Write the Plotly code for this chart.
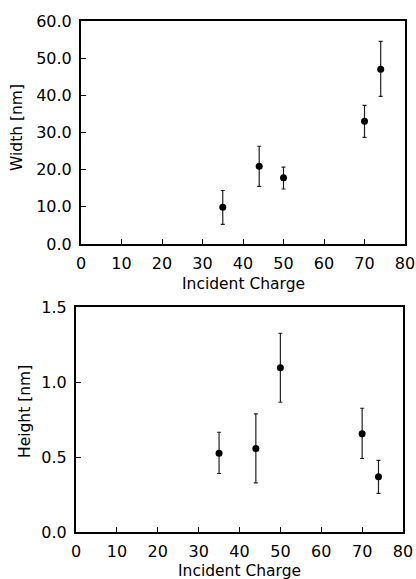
import plotly.graph_objects as go

charge = [35, 44, 50, 70, 74]

width_nm = [9.9, 20.9, 17.8, 33.0, 47.0]
width_err_plus = [4.5, 5.4, 2.9, 4.3, 7.5]
width_err_minus = [4.6, 5.4, 3.0, 4.3, 7.3]

height_nm = [0.525, 0.557, 1.095, 0.655, 0.368]
height_err_plus = [0.14, 0.23, 0.23, 0.17, 0.11]
height_err_minus = [0.135, 0.23, 0.23, 0.165, 0.11]

x_ticks = [0, 10, 20, 30, 40, 50, 60, 70, 80]
width_ticks = [0, 10, 20, 30, 40, 50, 60]
width_tick_labels = ["0.0", "10.0", "20.0", "30.0", "40.0", "50.0", "60.0"]
height_ticks = [0, 0.5, 1.0, 1.5]
height_tick_labels = ["0.0", "0.5", "1.0", "1.5"]

W, H = 416, 579
FONT = "DejaVu Sans"
FS = 16
FT = 15.5

fig = go.Figure()
fig.add_trace(go.Scatter(
    x=charge, y=width_nm, mode="markers",
    marker=dict(color="black", size=7),
    error_y=dict(type="data", symmetric=False, array=width_err_plus,
                 arrayminus=width_err_minus, color="#222", thickness=1.2, width=2),
    xaxis="x", yaxis="y", showlegend=False))
fig.add_trace(go.Scatter(
    x=charge, y=height_nm, mode="markers",
    marker=dict(color="black", size=7),
    error_y=dict(type="data", symmetric=False, array=height_err_plus,
                 arrayminus=height_err_minus, color="#222", thickness=1.2, width=2),
    xaxis="x2", yaxis="y2", showlegend=False))

def py(p):
    return 1 - p / H

axis_common = dict(showgrid=False, zeroline=False, showline=True, linecolor="black",
                   linewidth=2, mirror=True, ticks="inside", ticklen=5, tickwidth=1.2,
                   tickcolor="black", automargin=False,
                   tickfont=dict(family=FONT, size=FS, color="black"))

fig.update_layout(
    width=W, height=H, margin=dict(l=0, r=0, t=0, b=0),
    paper_bgcolor="white", plot_bgcolor="white",
    xaxis=dict(domain=[81 / W, 405 / W], anchor="y", range=[0, 80],
               tickvals=x_ticks, ticklabelstandoff=4, **axis_common),
    yaxis=dict(domain=[py(244), py(21)], anchor="x", range=[0, 60],
               tickvals=width_ticks, ticktext=width_tick_labels,
               ticklabelstandoff=4, **axis_common),
    xaxis2=dict(domain=[76 / W, 403 / W], anchor="y2", range=[0, 80],
                tickvals=x_ticks, ticklabelstandoff=4, **axis_common),
    yaxis2=dict(domain=[py(532), py(307)], anchor="x2", range=[0, 1.5],
                tickvals=height_ticks, ticktext=height_tick_labels,
                ticklabelstandoff=4, **axis_common),
)

annots = [
    dict(text="Incident Charge", x=(81 + 405) / 2 / W, y=py(284)),
    dict(text="Incident Charge", x=(76 + 403) / 2 / W, y=py(571)),
    dict(text="Width [nm]", x=17 / W, y=py(128), textangle=-90),
    dict(text="Height [nm]", x=25 / W, y=py(412), textangle=-90),
]
for a in annots:
    fig.add_annotation(xref="paper", yref="paper", showarrow=False,
                       xanchor="center", yanchor="middle",
                       font=dict(family=FONT, size=FT, color="black"), **a)

fig.write_html("out.html", config={"displayModeBar": False},
               post_script="document.body.style.margin='0';document.body.style.overflow='hidden';")
